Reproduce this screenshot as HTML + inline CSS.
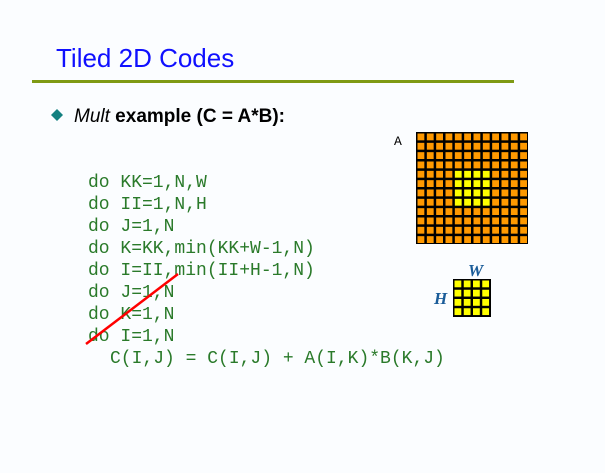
<!DOCTYPE html>
<html><head><style>
html,body{margin:0;padding:0;background:#fbfdff;}
</style></head><body>
<svg width="605" height="468" xmlns="http://www.w3.org/2000/svg">
<rect width="605" height="468" fill="#fbfdff"/>
<text x="56" y="67" font-family="Liberation Sans, sans-serif" font-size="26" fill="#1010ff">Tiled 2D Codes</text>
<rect x="32" y="80" width="482" height="3" fill="#7f9a14"/>
<path d="M57 109 L63 115 L57 121 L51 115 Z" fill="#138080"/>
<text x="74" y="122" font-family="Liberation Sans, sans-serif" font-size="19" fill="#000"><tspan font-style="italic">Mult</tspan><tspan font-weight="bold"> example (C = A*B):</tspan></text>
<g font-family="Liberation Mono, monospace" font-size="18" fill="#2a7a2a">
<text x="88" y="187">do KK=1,N,W</text>
<text x="88" y="209">do II=1,N,H</text>
<text x="88" y="231">do J=1,N</text>
<text x="88" y="253">do K=KK,min(KK+W-1,N)</text>
<text x="88" y="275">do I=II,min(II+H-1,N)</text>
<text x="88" y="297">do J=1,N</text>
<text x="88" y="319">do K=1,N</text>
<text x="88" y="341">do I=1,N</text>
<text x="110" y="363">C(I,J) = C(I,J) + A(I,K)*B(K,J)</text>
</g>
<line x1="86" y1="344" x2="178" y2="274" stroke="#ff0000" stroke-width="2.5"/>
<text x="394" y="145" font-family="Liberation Mono, monospace" font-size="13" fill="#000">A</text>
<rect x="416" y="132" width="112" height="112" fill="#000"/>
<text x="468" y="276" font-family="Liberation Serif, serif" font-style="italic" font-weight="bold" font-size="17" fill="#1a5c99">W</text>
<text x="434" y="304" font-family="Liberation Serif, serif" font-style="italic" font-weight="bold" font-size="17" fill="#1a5c99">H</text>
<rect x="453" y="279" width="38" height="38" fill="#000"/>
<script>
var ns="http://www.w3.org/2000/svg",s=document.querySelector('svg');
function r(x,y,w,h,c){var e=document.createElementNS(ns,'rect');e.setAttribute('x',x);e.setAttribute('y',y);e.setAttribute('width',w);e.setAttribute('height',h);e.setAttribute('fill',c);s.appendChild(e);}
var c=112/12;
for(var i=0;i<12;i++)for(var j=0;j<12;j++){var y=(i>=4&&i<8&&j>=4&&j<8);r(416+j*c+1.5,132+i*c+1.5,c-2.5,c-2.5,y?'#ffff00':'#ff9900');}
for(var i=0;i<4;i++)for(var j=0;j<4;j++){r(453+j*9.25+1.5,279+i*9.25+1.5,6.8,6.8,'#ffff00');}
</script>
</svg>
</body></html>
